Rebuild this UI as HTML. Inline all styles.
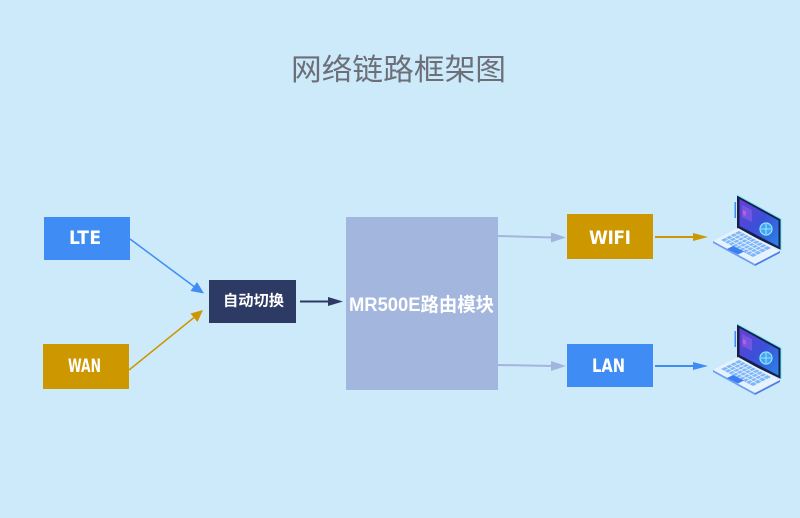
<!DOCTYPE html>
<html><head><meta charset="utf-8">
<style>
html,body{margin:0;padding:0;background:#cdeafb;}
svg{display:block;}
text{font-family:"Liberation Sans","Noto Sans CJK SC",sans-serif;}
.lbl{font-family:"DejaVu Sans Condensed","DejaVu Sans",sans-serif;font-stretch:condensed;}
</style></head>
<body>
<svg width="800" height="518" viewBox="0 0 800 518" xmlns="http://www.w3.org/2000/svg">
<defs>
  <linearGradient id="scr" x1="0" y1="0" x2="1" y2="1">
    <stop offset="0" stop-color="#6a3fd6"/>
    <stop offset="0.5" stop-color="#3b4fd8"/>
    <stop offset="1" stop-color="#2a86e8"/>
  </linearGradient>
  <g id="laptop">
    <polygon points="737,195 781,219 781,250 737,229" fill="#17204a"/>
    <polyline points="737,195 781,219 781,250" fill="none" stroke="#6fe6f2" stroke-width="1"/>
    <polygon points="739.5,199 778.5,220.5 778.5,246.5 739.5,226" fill="url(#scr)"/>
    <polygon points="742,205 752,210 752,222 742,217" fill="#7a5ae6" opacity="0.8"/>
    <polygon points="743,210 746,211.5 746,216 743,214.5" fill="#c05ad8"/>
    <circle cx="766" cy="229" r="6" fill="#3fa7f0" stroke="#9fe4ff" stroke-width="1.2"/>
    <path d="M761,229 L771,229 M766,224 L766,234" stroke="#bff0ff" stroke-width="0.8"/>
    <rect x="734.5" y="202" width="1.5" height="16" fill="#3a8ef0"/>
    <polygon points="713,241 738,228 780,251 755,264" fill="#e6f3ff"/>
    <polygon points="713,241 755,264 755,266 713,243" fill="#6e9ef2"/>
    <polygon points="755,264 780,251 780,253 755,266" fill="#4f7fe6"/>
    <polygon points="721,240 739,231 771,248 753,257" fill="#7fb6f8"/>
    <g stroke="#e6f3ff" stroke-width="0.8" fill="none">
      <path d="M724.6,241.8 L742.6,232.8 M728.2,243.6 L746.2,234.6 M731.8,245.4 L749.8,236.4 M735.4,247.2 L753.4,238.2 M739,249 L757,240 M742.6,250.8 L760.6,241.8 M746.2,252.6 L764.2,243.6 M749.8,254.4 L767.8,245.4"/>
      <path d="M725.5,237.8 L757.5,254.8 M730,235.5 L762,252.5 M734.5,233.3 L766.5,250.3"/>
    </g>
    <polygon points="727,249 733,246 744,251.5 738,254.5" fill="#3a7ef0"/>
  </g>
</defs>

<text x="291" y="80" font-size="30" fill="#6d6f78" textLength="215" lengthAdjust="spacingAndGlyphs" style="font-family:'Noto Sans CJK SC',sans-serif;">网络链路框架图</text>

<rect x="44" y="217" width="86" height="43" fill="#3f8cf4"/>
<text class="lbl" x="69" y="244" font-size="19" font-weight="bold" fill="#fff" textLength="32" lengthAdjust="spacing">LTE</text>

<rect x="43" y="344" width="86" height="45" fill="#cd9700"/>
<text class="lbl" x="68" y="372" font-size="19" font-weight="bold" fill="#fff" textLength="33" lengthAdjust="spacingAndGlyphs">WAN</text>

<rect x="209" y="280" width="87" height="43" fill="#2d3a64"/>
<text x="223" y="305.5" font-size="15" font-weight="bold" fill="#fff" textLength="61" lengthAdjust="spacingAndGlyphs" style="font-family:'Noto Sans CJK SC',sans-serif;">自动切换</text>

<rect x="346" y="217" width="152" height="173" fill="#a3b6de"/>
<text x="349" y="311" font-size="19" font-weight="bold" fill="#fff" textLength="145" lengthAdjust="spacingAndGlyphs">MR500E<tspan style="font-family:'Noto Sans CJK SC',sans-serif;">路由模块</tspan></text>

<rect x="567" y="214" width="86" height="45" fill="#cd9700"/>
<text class="lbl" x="589" y="244" font-size="19" font-weight="bold" fill="#fff" textLength="42" lengthAdjust="spacing">WIFI</text>

<rect x="567" y="344" width="86" height="43" fill="#3f8cf4"/>
<text class="lbl" x="592" y="372" font-size="19" font-weight="bold" fill="#fff" textLength="33" lengthAdjust="spacingAndGlyphs">LAN</text>

<line x1="130" y1="239" x2="194" y2="286.5" stroke="#3f8cf4" stroke-width="1.5"/>
<polygon points="204,293.5 190.5,291 197,282" fill="#3f8cf4"/>

<line x1="129" y1="370" x2="194" y2="317.5" stroke="#cd9700" stroke-width="1.5"/>
<polygon points="203,310 197.5,322 190.5,313.5" fill="#cd9700"/>

<line x1="300" y1="301.5" x2="331" y2="301.5" stroke="#2d3a64" stroke-width="2"/>
<polygon points="343,301.5 328,297 328,306" fill="#2d3a64"/>

<line x1="498" y1="236" x2="553" y2="237.5" stroke="#a3b4dd" stroke-width="2"/>
<polygon points="566,237.5 551,232.5 551,242.5" fill="#a3b4dd"/>

<line x1="498" y1="365" x2="553" y2="366" stroke="#a3b4dd" stroke-width="2"/>
<polygon points="566,366 551,361 551,371" fill="#a3b4dd"/>

<line x1="655" y1="237" x2="695" y2="237" stroke="#cd9700" stroke-width="2"/>
<polygon points="708,237 693,233 693,241" fill="#cd9700"/>

<line x1="655" y1="366" x2="695" y2="366" stroke="#3f8cf4" stroke-width="2"/>
<polygon points="708,366 693,362 693,370" fill="#3f8cf4"/>

<use href="#laptop"/>
<use href="#laptop" transform="translate(0,129)"/>
</svg>
</body></html>
